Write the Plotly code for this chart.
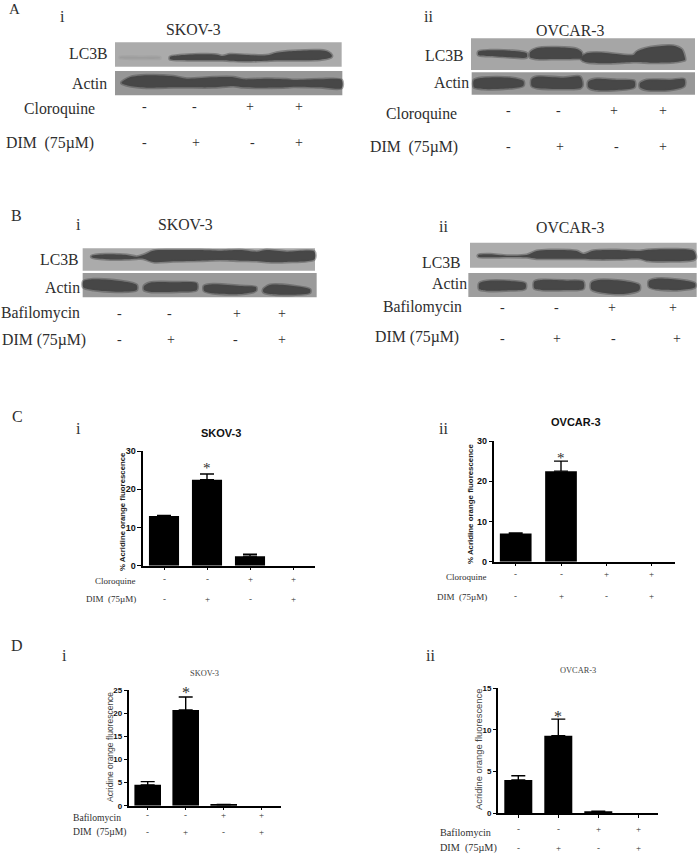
import plotly.graph_objects as go

W, H = 698, 855
SERIF = "Liberation Serif"
SANS = "Liberation Sans"
TXT = "#2e2e2e"

# ---------- bar chart data ----------
C1_VALUES = [13, 22.5, 2.5, 0]
C1_ERRORS = [0.15, 1.5, 0.5, 0]
C2_VALUES = [7, 22.5, 0, 0]
C2_ERRORS = [0.15, 2.5, 0, 0]
D1_VALUES = [4.5, 20.7, 0.2, 0]
D1_ERRORS = [0.7, 2.8, 0.05, 0]
D2_VALUES = [4, 9.3, 0.2, 0]
D2_ERRORS = [0.5, 2.0, 0.05, 0]
LANES = [0, 1, 2, 3]
TREAT_ROW = ["-", "-", "+", "+"]
DIM_ROW = ["-", "+", "-", "+"]
C_TICKS = [0, 10, 20, 30]
D1_TICKS = [0, 5, 10, 15, 20, 25]
D2_TICKS = [0, 5, 10, 15]

# ---------- blot densitometry outlines: (lane position, band top, band bottom) ----------
A1_LC3B_FAINT = [[(360, 171, 174), (420, 171, 176), (480, 172, 175)]]
A1_LC3B = [[(510, 171, 178), (540, 166, 180), (600, 163, 181), (650, 164, 181), (668, 168, 181), (690, 163, 182),
            (740, 165, 184), (800, 166, 182), (830, 158, 181), (880, 153, 181), (960, 151, 179), (985, 156, 175), (995, 165, 170)]]
A1_ACTIN = [[(365, 247, 250), (390, 232, 258), (440, 226, 263), (520, 229, 262), (560, 236, 262), (640, 232, 262),
             (700, 232, 258), (730, 238, 262), (800, 236, 263), (860, 238, 262), (880, 240, 260), (960, 238, 262), (1025, 240, 264)]]
A2_LC3B = [[(385, 155, 165), (420, 151, 168), (480, 152, 172), (530, 160, 172)],
           [(540, 157, 172), (560, 145, 177), (620, 142, 177), (680, 147, 176), (695, 157, 175)],
           [(695, 172, 180), (710, 160, 187), (760, 158, 190), (850, 165, 186), (860, 155, 186), (900, 142, 188),
            (970, 137, 187), (995, 148, 183), (1005, 175, 180)]]
A2_ACTIN = [[(372, 240, 262), (400, 233, 267), (480, 233, 265), (520, 243, 257)],
            [(545, 238, 258), (560, 230, 264), (640, 233, 267), (690, 230, 265), (697, 245, 258)],
            [(715, 245, 262), (735, 237, 270), (800, 240, 270), (853, 243, 262)],
            [(870, 250, 262), (890, 240, 270), (960, 240, 270), (1003, 238, 258)]]
B1_LC3B = [[(275, 168, 172), (320, 163, 178), (380, 165, 178), (410, 170, 176), (430, 165, 176), (460, 152, 186),
            (520, 150, 184), (600, 150, 182), (660, 152, 180), (720, 150, 182), (770, 155, 183), (800, 150, 186),
            (860, 155, 186), (943, 155, 178)]]
B1_ACTIN = [[(250, 244, 262), (280, 238, 270), (360, 243, 275), (410, 255, 270)],
            [(432, 258, 270), (450, 248, 275), (530, 247, 275), (590, 250, 270)],
            [(612, 258, 272), (640, 253, 280), (720, 258, 282), (768, 262, 272)],
            [(790, 268, 276), (810, 255, 282), (880, 258, 284), (930, 268, 278)]]
B2_LC3B = [[(385, 165, 170), (420, 163, 172), (470, 167, 171), (530, 165, 172), (560, 153, 176), (600, 150, 176),
            (680, 153, 176), (700, 162, 176), (730, 152, 178), (800, 150, 178), (870, 153, 176), (890, 150, 182),
            (960, 148, 184), (1030, 152, 180), (1037, 165, 175)]]
B2_ACTIN = [[(388, 250, 268), (410, 243, 272), (480, 243, 271), (526, 250, 266)],
            [(553, 245, 265), (575, 240, 270), (650, 242, 270), (700, 245, 266)],
            [(724, 248, 268), (745, 240, 276), (820, 243, 282), (868, 255, 270)],
            [(897, 243, 260), (920, 236, 268), (990, 240, 270), (1035, 250, 262)]]

fig = go.Figure()
annots, shapes, layout = [], [], {}


def fx(p):
    return p / W


def fy(p):
    return 1 - p / H


def text(s, x, y, size=15.8, xanchor="center", family=SERIF, color=TXT, angle=0, xref="paper"):
    if xref == "paper":
        nudge = {"left": -1.5, "right": 1.5, "center": 0}[xanchor]
        x = fx(x + nudge)
    annots.append(dict(text=s, x=x, y=fy(y), xref=xref, yref="paper",
                       xanchor=xanchor, yanchor="middle", showarrow=False, textangle=angle,
                       font=dict(family=family, size=size, color=color)))


# ---------- blot panels ----------
def panel(i, px0, py0, px1, py1):
    nm = "" if i == 1 else str(i)
    layout["xaxis" + nm] = dict(domain=[fx(px0), fx(px1)], range=[0, (px1 - px0) * 3], visible=False,
                                anchor="y" + nm, fixedrange=True)
    layout["yaxis" + nm] = dict(domain=[fy(py1), fy(py0)], range=[(py1 - py0) * 3, 0], visible=False,
                                anchor="x" + nm, fixedrange=True)
    return "x" + nm, "y" + nm


def blot(axes, frame, bg, bands, color="#474747", edge="rgba(71,71,71,0.45)", width=3):
    xa, ya = axes
    if frame:
        shapes.append(dict(type="rect", xref=xa, yref=ya, x0=frame[0], x1=frame[1], y0=frame[2], y1=frame[3],
                           fillcolor=bg, line=dict(width=0), layer="below"))
    xs, ys = [], []
    for band in bands:
        xs += [b[0] for b in band] + [b[0] for b in reversed(band)] + [band[0][0], None]
        ys += [b[1] for b in band] + [b[2] for b in reversed(band)] + [band[0][1], None]
    fig.add_trace(go.Scatter(x=xs, y=ys, xaxis=xa, yaxis=ya, mode="lines", fill="toself", fillcolor=color,
                             line=dict(color=edge, width=width, shape="spline", smoothing=0.8),
                             hoverinfo="skip", showlegend=False))


pa1 = panel(1, 0, 0, 350, 170)
pa2 = panel(2, 350, 0, 698, 170)
pb1 = panel(3, 0, 200, 350, 360)
pb2 = panel(4, 350, 200, 698, 360)

blot(pa1, (345, 1025, 127, 200), "#ababab", A1_LC3B_FAINT, "#9d9d9d", "rgba(157,157,157,0.5)")
blot(pa1, None, None, A1_LC3B)
blot(pa1, (345, 1027, 213, 286), "#969696", A1_ACTIN)
blot(pa2, (363, 1035, 115, 210), "#a6a6a6", A2_LC3B)
blot(pa2, (365, 1035, 217, 284), "#989898", A2_ACTIN)
blot(pb1, (248, 945, 145, 212), "#ababab", B1_LC3B)
blot(pb1, (248, 950, 219, 292), "#9a9a9a", B1_ACTIN)
blot(pb2, (360, 1040, 128, 203), "#acacac", B2_LC3B)
blot(pb2, (355, 1040, 219, 291), "#9e9e9e", B2_ACTIN)


# ---------- bar panels ----------
def bars(i, values, errors, ticks, left, right, y_top, y_zero, c0, spacing, capw, tickfont):
    nm = str(i)
    fig.add_trace(go.Bar(x=LANES, y=values, xaxis="x" + nm, yaxis="y" + nm, width=0.7,
                         marker=dict(color="#000000", line=dict(width=0)), showlegend=False))
    keep = [k for k in LANES if errors[k] > 0]
    fig.add_trace(go.Scatter(x=keep, y=[values[k] for k in keep], xaxis="x" + nm, yaxis="y" + nm, mode="markers",
                             marker=dict(size=1, opacity=0), hoverinfo="skip", showlegend=False, cliponaxis=False,
                             error_y=dict(type="data", symmetric=False, array=[errors[k] for k in keep],
                                          arrayminus=[0] * len(keep), color="#000000", thickness=1.4, width=capw)))
    layout["xaxis" + nm] = dict(domain=[fx(left), fx(right)], anchor="y" + nm,
                                range=[(left - c0) / spacing, (right - c0) / spacing],
                                tickmode="array", tickvals=LANES, ticktext=[""] * 4, ticks="outside", ticklen=3,
                                tickwidth=1.3, tickcolor="#000", showline=True, linecolor="#000", linewidth=1.5,
                                showgrid=False, zeroline=False, fixedrange=True)
    layout["yaxis" + nm] = dict(domain=[fy(y_zero), fy(y_top)], anchor="x" + nm, range=[0, ticks[-1]],
                                tickmode="array", tickvals=ticks, ticks="outside", ticklen=3.5, tickwidth=1.3,
                                tickcolor="#000", showline=True, linecolor="#000", linewidth=1.5, showgrid=False,
                                zeroline=False, fixedrange=True,
                                tickfont=dict(family=SANS, size=tickfont, color="#111", weight="bold"))
    return "x" + nm


def signs(xa, row, y, size):
    for lane, s in zip(LANES, row):
        text(s, lane, y, size=size, xref=xa)


xc1 = bars(5, C1_VALUES, C1_ERRORS, C_TICKS, 142.7, 315, 451, 565.7, 164, 43, 7, 9)
xc2 = bars(6, C2_VALUES, C2_ERRORS, C_TICKS, 494, 675, 441, 561.7, 515.7, 45.3, 7, 9)
xd1 = bars(7, D1_VALUES, D1_ERRORS, D1_TICKS, 129, 281, 690, 805.7, 147.7, 38, 7, 8)
xd2 = bars(8, D2_VALUES, D2_ERRORS, D2_TICKS, 498.3, 658.3, 688.3, 813.3, 518.3, 40, 7, 8)

# ---------- blot panel text ----------
text("A", 15, 9, 15); text("i", 62, 17, 16)
text("SKOV-3", 193, 29)
text("LC3B", 108, 53, xanchor="right"); text("Actin", 107, 83, xanchor="right")
text("Cloroquine", 95, 109, xanchor="right"); text("DIM&nbsp;&nbsp;(75µM)", 94, 143, xanchor="right")
for x, s in zip([144, 194, 250, 299], TREAT_ROW):
    text(s, x, 107, 14)
for x, s in zip([144, 196, 252, 299], DIM_ROW):
    text(s, x, 142, 14)

text("ii", 428, 17, 16); text("OVCAR-3", 570, 30)
text("LC3B", 464, 55, xanchor="right"); text("Actin", 469, 82, xanchor="right")
text("Cloroquine", 457, 114, xanchor="right"); text("DIM&nbsp;&nbsp;(75µM)", 458, 147, xanchor="right")
for x, s in zip([508, 558, 614, 663], TREAT_ROW):
    text(s, x, 111, 14)
for x, s in zip([508, 560, 616, 663], DIM_ROW):
    text(s, x, 146, 14)

text("B", 16, 215, 16); text("i", 78, 225, 16)
text("SKOV-3", 185, 224)
text("LC3B", 79, 259, xanchor="right"); text("Actin", 80, 288, xanchor="right")
text("Bafilomycin", 80, 313, xanchor="right"); text("DIM (75µM)", 86, 340, xanchor="right")
for x, s in zip([119, 169, 237, 282], TREAT_ROW):
    text(s, x, 313, 14)
for x, s in zip([119, 171, 235, 282], DIM_ROW):
    text(s, x, 339, 14)

text("ii", 444, 226, 16); text("OVCAR-3", 570, 228)
text("LC3B", 462, 262, xanchor="right"); text("Actin", 467, 283, xanchor="right")
text("Bafilomycin", 463, 307, xanchor="right"); text("DIM (75µM)", 460, 337, xanchor="right")
for x, s in zip([502, 556, 612, 673], TREAT_ROW):
    text(s, x, 307, 14)
for x, s in zip([502, 557, 613, 677], DIM_ROW):
    text(s, x, 338, 14)

# ---------- bar panel text ----------
text("C", 17, 417, 16); text("i", 78, 428, 16)
text("<b>SKOV-3</b>", 221, 433, 11, family=SANS, color="#111")
text("<b>% Acridine orange fluorescence</b>", 122, 512, 7.8, family=SANS, angle=-90, color="#222")
text("Cloroquine", 136, 581, 9, "right"); text("DIM&nbsp;&nbsp;(75µM)", 136, 599, 9, "right")
signs(xc1, TREAT_ROW, 579, 9); signs(xc1, DIM_ROW, 599, 9)
text("*", 1, 468, 15, xref=xc1)

text("ii", 444, 428, 16)
text("<b>OVCAR-3</b>", 576, 422, 11, family=SANS, color="#111")
text("<b>% Acridine orange fluorescence</b>", 471, 504, 7.9, family=SANS, angle=-90, color="#222")
text("Cloroquine", 487, 577, 9, "right"); text("DIM&nbsp;&nbsp;(75µM)", 487, 597, 9, "right")
signs(xc2, TREAT_ROW, 574, 9); signs(xc2, DIM_ROW, 596, 9)
text("*", 1, 458, 15, xref=xc2)

text("D", 17, 645, 16); text("i", 64, 655, 16)
text("SKOV-3", 204, 673, 8.4, color="#444")
text("Acridine orange fluorescence", 110, 747, 8.5, family=SANS, angle=-90, color="#444")
text("Bafilomycin", 72, 817, 9.6, "left"); text("DIM&nbsp;&nbsp;(75µM)", 72, 832, 9.6, "left")
signs(xd1, TREAT_ROW, 815, 9); signs(xd1, DIM_ROW, 832, 9)
text("*", 1, 692, 16, xref=xd1)

text("ii", 430, 655, 16)
text("OVCAR-3", 578, 670, 8.4, color="#444")
text("Acridine orange fluorescence", 478, 750, 9.4, family=SANS, angle=-90, color="#444")
text("Bafilomycin", 439, 832, 10.2, "left"); text("DIM&nbsp;&nbsp;(75µM)", 439, 848, 10.2, "left")
signs(xd2, TREAT_ROW, 829, 9); signs(xd2, DIM_ROW, 848, 9)
text("*", 1, 716, 16, xref=xd2)

fig.update_layout(width=W, height=H, margin=dict(l=0, r=0, t=0, b=0, autoexpand=False), paper_bgcolor="#fff",
                  plot_bgcolor="rgba(0,0,0,0)", showlegend=False, annotations=annots, shapes=shapes, bargap=0.3, **layout)
fig.write_html("out.html", config=dict(displayModeBar=False),
               post_script="document.body.style.margin='0';document.documentElement.style.overflow='hidden';")
